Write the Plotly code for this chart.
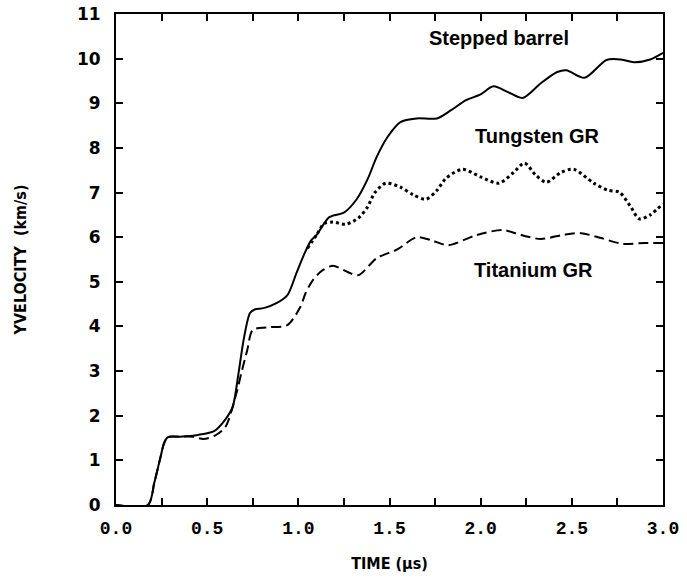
import plotly.graph_objects as go

# Projectile velocity histories (km/s) versus time (microseconds)
time_stepped = [0.0, 0.175, 0.21, 0.24, 0.265, 0.285, 0.35, 0.45, 0.54, 0.60, 0.64, 0.67, 0.70, 0.735,
                0.76, 0.81, 0.88, 0.94, 0.99, 1.03, 1.07, 1.10, 1.17, 1.25, 1.32, 1.38, 1.43, 1.49, 1.56,
                1.65, 1.76, 1.84, 1.92, 2.00, 2.07, 2.15, 2.23, 2.33, 2.42, 2.47, 2.57, 2.69, 2.77,
                2.84, 2.93, 3.00]
vel_stepped = [0.0, 0.0, 0.5, 1.0, 1.4, 1.52, 1.53, 1.57, 1.66, 1.92, 2.2, 2.9, 3.7, 4.3,
               4.38, 4.41, 4.52, 4.7, 5.2, 5.6, 5.93, 6.05, 6.45, 6.55, 6.85, 7.3, 7.8, 8.25, 8.58,
               8.66, 8.66, 8.85, 9.07, 9.2, 9.38, 9.25, 9.12, 9.45, 9.7, 9.74, 9.57, 9.97, 9.98,
               9.92, 9.98, 10.13]

time_tungsten = [1.05, 1.10, 1.14, 1.19, 1.26, 1.33, 1.38, 1.42, 1.48, 1.56, 1.63, 1.70, 1.76,
                 1.81, 1.90, 2.00, 2.10, 2.18, 2.24, 2.30, 2.36, 2.44, 2.51, 2.62, 2.70, 2.76,
                 2.82, 2.87, 2.93, 3.00]
vel_tungsten = [5.75, 6.05, 6.3, 6.34, 6.29, 6.43, 6.68, 7.0, 7.21, 7.12, 6.95, 6.85, 7.05,
                7.32, 7.52, 7.35, 7.21, 7.45, 7.66, 7.4, 7.23, 7.45, 7.52, 7.21, 7.05, 7.01,
                6.7, 6.41, 6.5, 6.75]

time_titanium = [0.0, 0.175, 0.21, 0.24, 0.265, 0.285, 0.35, 0.42, 0.48, 0.54, 0.60, 0.66, 0.69,
                 0.72, 0.75, 0.83, 0.94, 1.01, 1.04, 1.08, 1.13, 1.19, 1.27, 1.33, 1.43, 1.54,
                 1.65, 1.73, 1.82, 1.98, 2.12, 2.22, 2.33, 2.45, 2.55, 2.66, 2.78, 2.90, 3.00]
vel_titanium = [0.0, 0.0, 0.5, 1.0, 1.4, 1.52, 1.53, 1.53, 1.48, 1.55, 1.75, 2.5, 3.0,
                3.47, 3.92, 3.98, 4.03, 4.43, 4.75, 5.04, 5.25, 5.36, 5.22, 5.15, 5.53, 5.72,
                6.0, 5.93, 5.82, 6.05, 6.16, 6.05, 5.96, 6.05, 6.09, 5.98, 5.85, 5.87, 5.87]

labels = ["Stepped barrel", "Tungsten GR", "Titanium GR"]
label_x = [2.1, 2.31, 2.29]
label_y = [10.47, 8.27, 5.26]

fig = go.Figure()
fig.add_trace(go.Scatter(x=time_titanium, y=vel_titanium, mode="lines",
                         line=dict(color="black", width=2, dash="10px,5px", shape="spline", smoothing=0.8)))
fig.add_trace(go.Scatter(x=time_tungsten, y=vel_tungsten, mode="lines",
                         line=dict(color="black", width=3, dash="dot", shape="spline", smoothing=0.8)))
fig.add_trace(go.Scatter(x=time_stepped, y=vel_stepped, mode="lines",
                         line=dict(color="black", width=2, shape="spline", smoothing=0.8)))

for text, lx, ly in zip(labels, label_x, label_y):
    fig.add_annotation(x=lx, y=ly, text=text, showarrow=False,
                       font=dict(family="Liberation Sans, Arial", size=20, color="black", weight="bold"))

fig.update_layout(
    width=687, height=579,
    margin=dict(l=116, r=24, t=14, b=74),
    paper_bgcolor="white", plot_bgcolor="white",
    showlegend=False,
)
fig.update_xaxes(
    range=[0, 3.0], dtick=0.5, tickformat=".1f", automargin=False,
    ticks="inside", ticklen=7, tickwidth=2, tickcolor="black",
    minor=dict(dtick=0.25, ticks="inside", ticklen=7, tickwidth=2, tickcolor="black"),
    showline=True, linewidth=2, linecolor="black", mirror="ticks",
    showgrid=False, zeroline=False, ticklabelstandoff=5,
    tickfont=dict(family="Liberation Mono, DejaVu Sans Mono", size=18, color="black", weight="bold"),
    title=dict(text="TIME (\u03bcs)", standoff=20,
               font=dict(family="Liberation Sans Narrow, DejaVu Sans Condensed, Arial", size=16,
                         color="black", weight="bold")),
)
fig.update_yaxes(
    range=[0, 11], dtick=1, automargin=False,
    ticks="inside", ticklen=7, tickwidth=2, tickcolor="black",
    showline=True, linewidth=2, linecolor="black", mirror="ticks",
    showgrid=False, zeroline=False, ticklabelstandoff=10,
    tickfont=dict(family="DejaVu Sans", size=17, color="black", weight="bold"),
    title=dict(text="YVELOCITY  (km/s)", standoff=46,
               font=dict(family="Liberation Sans Narrow, DejaVu Sans Condensed, Arial", size=16,
                         color="black", weight="bold")),
)

fig.write_html("out.html")
